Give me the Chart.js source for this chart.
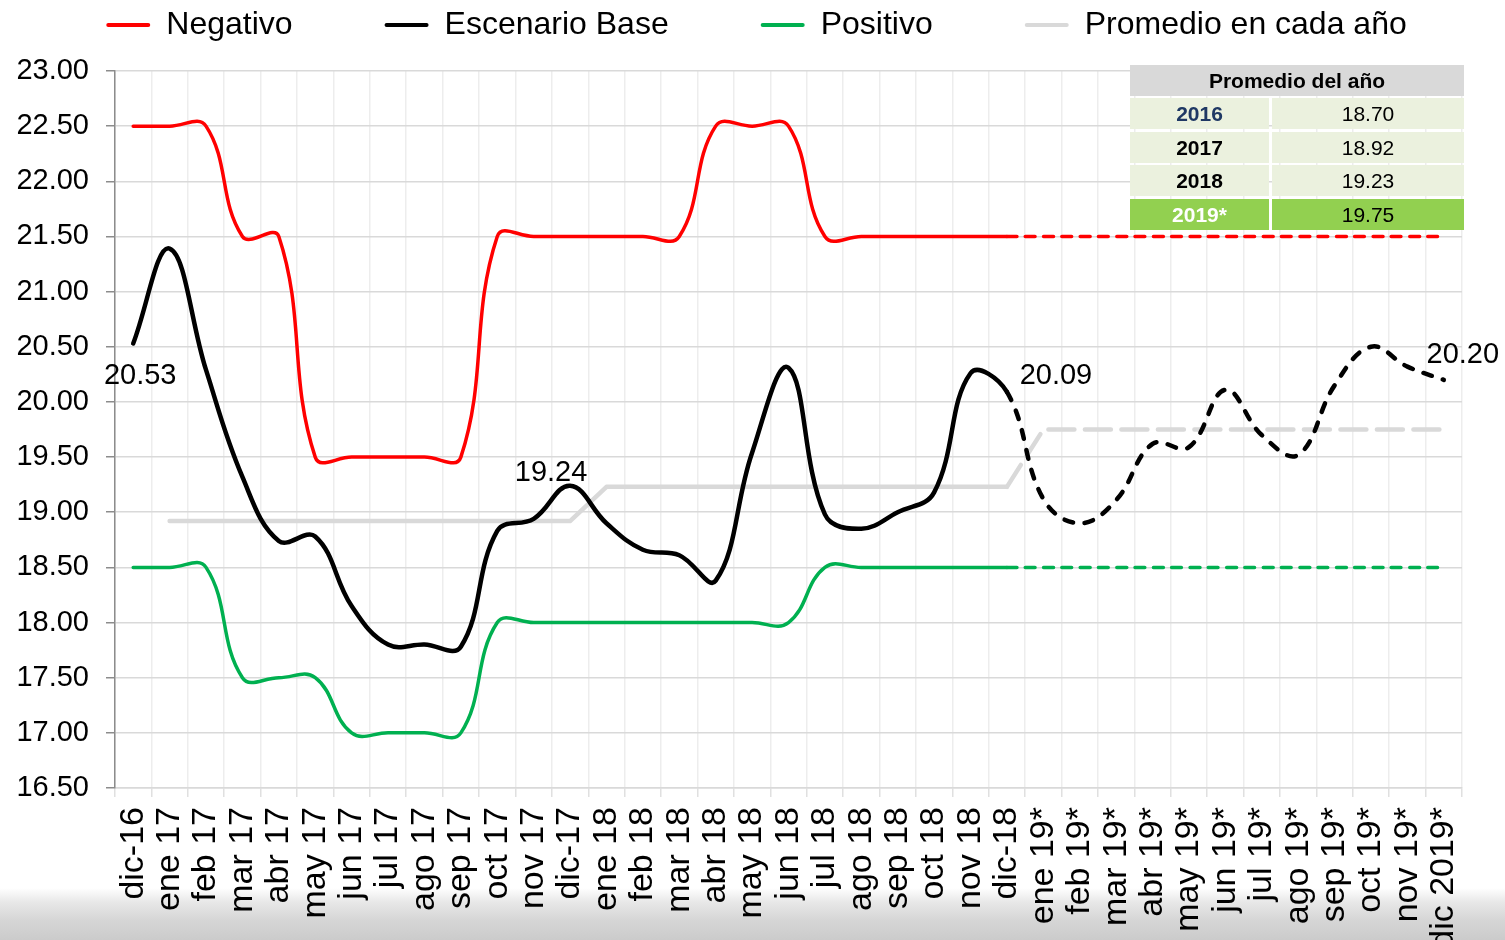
<!DOCTYPE html>
<html>
<head>
<meta charset="utf-8">
<script src="https://cdn.jsdelivr.net/npm/chart.js@4.4.1/dist/chart.umd.min.js"></script>
<style>
html,body{margin:0;padding:0;width:1505px;height:940px;overflow:hidden;}
body{background:linear-gradient(to bottom,#ffffff 0px,#ffffff 888px,#e8e8e8 902px,#d6d6d6 920px,#cbcbcb 940px);font-family:"Liberation Sans",Arial,sans-serif;}
#wrap{position:relative;width:1505px;height:940px;}
#chart{position:absolute;left:0;top:0;}
#tbl{position:absolute;left:1130px;top:65px;width:334px;z-index:2;font-family:"Liberation Sans",Arial,sans-serif;}
#tbl .hdr{height:31px;line-height:31px;background:#d9d9d9;text-align:center;font-weight:bold;font-size:21px;color:#000;margin-bottom:2px;}
#tbl .row{display:flex;height:31px;margin-bottom:2.5px;}
#tbl .c1{width:139px;margin-right:3px;background:#ebf1de;text-align:center;line-height:31px;font-weight:bold;font-size:21px;color:#000;}
#tbl .c2{width:192px;background:#ebf1de;text-align:center;line-height:31px;font-size:21px;color:#000;}
#tbl .row.hl .c1{background:#92d050;color:#ffffff;}
#tbl .row.hl .c2{background:#92d050;}
#tbl .row.first .c1{color:#1f3864;}
</style>
</head>
<body>
<div id="wrap">
  <canvas id="chart" width="1505" height="940"></canvas>
  <div id="tbl"></div>
</div>
<script>
// ---------- DATA ----------
const categories = ['dic-16','ene 17','feb 17','mar 17','abr 17','may 17','jun 17','jul 17','ago 17','sep 17','oct 17','nov 17','dic-17',
  'ene 18','feb 18','mar 18','abr 18','may 18','jun 18','jul 18','ago 18','sep 18','oct 18','nov 18','dic-18',
  'ene 19*','feb 19*','mar 19*','abr 19*','may 19*','jun 19*','jul 19*','ago 19*','sep 19*','oct 19*','nov 19*','dic 2019*'];

const negativo = [22.5,22.5,22.5,21.5,21.5,19.5,19.5,19.5,19.5,19.5,21.5,21.5,21.5,
  21.5,21.5,21.5,22.5,22.5,22.5,21.5,21.5,21.5,21.5,21.5,21.5,
  21.5,21.5,21.5,21.5,21.5,21.5,21.5,21.5,21.5,21.5,21.5,21.5];

const escenarioBase = [20.53,21.39,20.29,19.32,18.74,18.78,18.15,17.80,17.80,17.78,18.83,18.94,19.24,
  18.90,18.66,18.61,18.38,19.54,20.31,18.98,18.85,19.00,19.18,20.26,20.09,
  19.12,18.90,19.11,19.62,19.59,20.11,19.70,19.52,20.15,20.50,20.32,20.20];

const positivo = [18.5,18.5,18.5,17.5,17.5,17.5,17.0,17.0,17.0,17.0,18.0,18.0,18.0,
  18.0,18.0,18.0,18.0,18.0,18.0,18.5,18.5,18.5,18.5,18.5,18.5,
  18.5,18.5,18.5,18.5,18.5,18.5,18.5,18.5,18.5,18.5,18.5,18.5];

const promedioAnual = [null,18.92,18.92,18.92,18.92,18.92,18.92,18.92,18.92,18.92,18.92,18.92,18.92,
  19.23,19.23,19.23,19.23,19.23,19.23,19.23,19.23,19.23,19.23,19.23,19.23,
  19.75,19.75,19.75,19.75,19.75,19.75,19.75,19.75,19.75,19.75,19.75,19.75];

const seriesNames = ['Negativo','Escenario Base','Positivo','Promedio en cada año'];

const tableTitle = 'Promedio del año';
const tableYears = ['2016','2017','2018','2019*'];
const tableValues = [18.70,18.92,19.23,19.75];

const labeledPoints = [0,12,24,36];
const forecastStart = 24;

// ---------- TABLE ----------
(function(){
  const t = document.getElementById('tbl');
  let h = '<div class="hdr">' + tableTitle + '</div>';
  tableYears.forEach((y, i) => {
    let cls = 'row';
    if (i === 0) cls += ' first';
    if (i === tableYears.length - 1) cls += ' hl';
    h += '<div class="' + cls + '"><div class="c1">' + y + '</div><div class="c2">' + tableValues[i].toFixed(2) + '</div></div>';
  });
  t.innerHTML = h;
})();

// ---------- CHART ----------
const FONT = '"Liberation Sans", Arial, sans-serif';
const labelOffsets = [[7,33],[-19,-13],[49,-16],[19,-25]];

const valueLabels = {
  id: 'valueLabels',
  afterDatasetsDraw(chart) {
    const meta = chart.getDatasetMeta(1);
    const ctx = chart.ctx;
    ctx.save();
    ctx.font = '29px ' + FONT;
    ctx.fillStyle = '#000';
    ctx.textAlign = 'center';
    ctx.textBaseline = 'middle';
    labeledPoints.forEach((i, k) => {
      const p = meta.data[i];
      ctx.fillText(escenarioBase[i].toFixed(2), p.x + labelOffsets[k][0], p.y + labelOffsets[k][1]);
    });
    ctx.restore();
  }
};

function dashAfter(dash) {
  return ctx => (ctx.p0DataIndex >= forecastStart ? dash : undefined);
}

const colors = ['#ff0000','#000000','#00b050','#d9d9d9'];

new Chart(document.getElementById('chart'), {
  type: 'line',
  data: {
    labels: categories,
    datasets: [
      { label: seriesNames[0], data: negativo, borderColor: colors[0], backgroundColor: colors[0], borderWidth: 3.5,
        tension: 0.42, pointRadius: 0, borderCapStyle: 'round', borderJoinStyle: 'round',
        segment: { borderDash: dashAfter([10, 8.3]) } },
      { label: seriesNames[1], data: escenarioBase, borderColor: colors[1], backgroundColor: colors[1], borderWidth: 4.5,
        tension: 0.4, pointRadius: 0, borderCapStyle: 'round', borderJoinStyle: 'round',
        segment: { borderDash: dashAfter([9, 11.5]) } },
      { label: seriesNames[2], data: positivo, borderColor: colors[2], backgroundColor: colors[2], borderWidth: 3.5,
        tension: 0.42, pointRadius: 0, borderCapStyle: 'round', borderJoinStyle: 'round',
        segment: { borderDash: dashAfter([10, 8.3]) } },
      { label: seriesNames[3], data: promedioAnual, borderColor: colors[3], backgroundColor: colors[3], borderWidth: 4.5,
        tension: 0, pointRadius: 0, borderCapStyle: 'round', borderJoinStyle: 'round',
        segment: { borderDash: dashAfter([26, 10.5]) } }
    ]
  },
  options: {
    responsive: false,
    animation: false,
    events: [],
    layout: { padding: { top: -83, left: 8, right: 0, bottom: 0 } },
    plugins: {
      legend: {
        display: true,
        position: 'top',
        weight: 3000,
        align: 'center',
        labels: {
          font: { size: 32, family: FONT },
          color: '#000',
          boxWidth: 44,
          boxHeight: 4,
          padding: 92,
          generateLabels: chart => chart.data.datasets.map((ds, i) => ({
            text: ds.label, fillStyle: ds.borderColor, strokeStyle: ds.borderColor,
            lineWidth: 0, hidden: false, datasetIndex: i, borderRadius: 2
          })),
          useBorderRadius: true,
          borderRadius: 2
        }
      },
      subtitle: { display: true, text: '', font: { size: 1, lineHeight: 1 }, padding: { top: 0, bottom: 19 } },
      title: { display: false },
      tooltip: { enabled: false }
    },
    scales: {
      x: {
        type: 'category',
        offset: true,
        grid: { display: true, offset: true, color: '#ededed', lineWidth: 1.5, tickColor: '#e0e0e0', tickLength: 9 },
        border: { display: true, color: '#d9d9d9', width: 1.5 },
        ticks: { autoSkip: false, maxRotation: 90, minRotation: 90, padding: 10, color: '#000', font: { size: 34, family: FONT } },
        afterFit: s => { s.height = 152; }
      },
      y: {
        position: 'left',
        min: 16.5, max: 23,
        ticks: { stepSize: 0.5, color: '#000', padding: 17, font: { size: 29, family: FONT }, callback: v => Number(v).toFixed(2) },
        grid: { color: '#d9d9d9', lineWidth: 1.5, tickColor: '#8c8c8c', tickLength: 9 },
        border: { display: true, color: '#8c8c8c', width: 1.5 },
        afterFit: s => { s.width = 107; }
      },
      y2: {
        position: 'right',
        display: true,
        grid: { display: false, drawTicks: false },
        border: { display: false },
        ticks: { display: false },
        afterFit: s => { s.width = 43; }
      }
    }
  },
  plugins: [valueLabels]
});
</script>
</body>
</html>
